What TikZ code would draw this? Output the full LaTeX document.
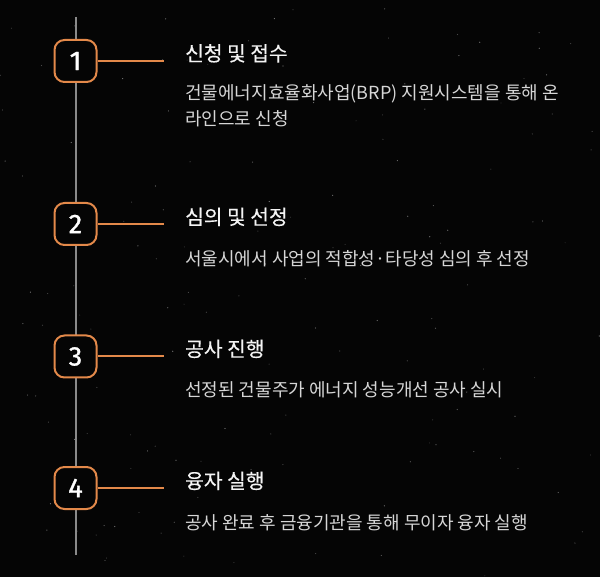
\documentclass[tikz,border=0pt]{standalone}
\usepackage{fontspec}
\setmainfont{Noto Sans CJK KR}
\newfontfamily\ttlfont[FakeBold=0.25]{Noto Sans CJK KR}
\newfontfamily\numfont[FakeBold=1.2]{Fira Sans}
\definecolor{bgc}{HTML}{050505}
\definecolor{orng}{HTML}{E3894A}
\definecolor{vline}{HTML}{8A8A8A}
\definecolor{ttl}{HTML}{F4F4F4}
\definecolor{dsc}{HTML}{D6D6D6}
\begin{document}
\begin{tikzpicture}[x=1pt,y=-1pt,
  numbox/.style={draw=orng,line width=2pt,rounded corners=10pt,fill=bgc,minimum width=42pt,minimum height=42pt,inner sep=0pt,text=white,font=\numfont\fontsize{27}{27}\selectfont},
  conn/.style={draw=orng,line width=2pt},
  ttlnode/.style={anchor=base west,inner sep=0pt,text=ttl,font=\ttlfont\fontsize{20.3}{25}\selectfont},
  dscnode/.style={anchor=base west,inner sep=0pt,text=dsc,align=left,font=\fontsize{18}{26}\selectfont}]
\fill[bgc] (0,0) rectangle (600,577);
\useasboundingbox (0,0) rectangle (600,577);
% faint speckles
\pgfmathsetseed{7}
\foreach \i in {1,...,160}{
  \pgfmathsetmacro{\px}{rnd*600}
  \pgfmathsetmacro{\py}{rnd*577}
  \pgfmathsetmacro{\op}{0.15+0.35*rnd}
  \fill[white,opacity=\op] (\px,\py) circle (0.6pt);
}
\coordinate (top) at (75.7,17);
\coordinate (bot) at (75.7,555);
\draw[vline,line width=2pt] (top) -- (bot);
% boxes
\node[numbox] (b1) at (75.5,61) {1};
\node[numbox] (b2) at (75.5,224) {2};
\node[numbox] (b3) at (75.5,356.5) {3};
\node[numbox] (b4) at (75.5,488) {4};
\coordinate (e1) at (164,61);
\coordinate (e2) at (164,224);
\coordinate (e3) at (164,356.5);
\coordinate (e4) at (164,488);
\draw[conn] (b1.east) -- (e1);
\draw[conn] (b2.east) -- (e2);
\draw[conn] (b3.east) -- (e3);
\draw[conn] (b4.east) -- (e4);
% titles
\node[ttlnode] (t1) at (185,61) {신청 및 접수};
\node[ttlnode] (t2) at (185,224.5) {심의 및 선정};
\node[ttlnode] (t3) at (185,356.5) {공사 진행};
\node[ttlnode] (t4) at (185,488.5) {융자 실행};
% descriptions
\node[dscnode] (d1) at (185,125.5) {건물에너지효율화사업(BRP) 지원시스템을 통해 온\\라인으로 신청};
\node[dscnode] (d2) at (185,265.5) {서울시에서 사업의 적합성·타당성 심의 후 선정};
\node[dscnode] (d3) at (185,396.5) {선정된 건물주가 에너지 성능개선 공사 실시};
\node[dscnode] (d4) at (185,529.5) {공사 완료 후 금융기관을 통해 무이자 융자 실행};
\end{tikzpicture}
\end{document}
